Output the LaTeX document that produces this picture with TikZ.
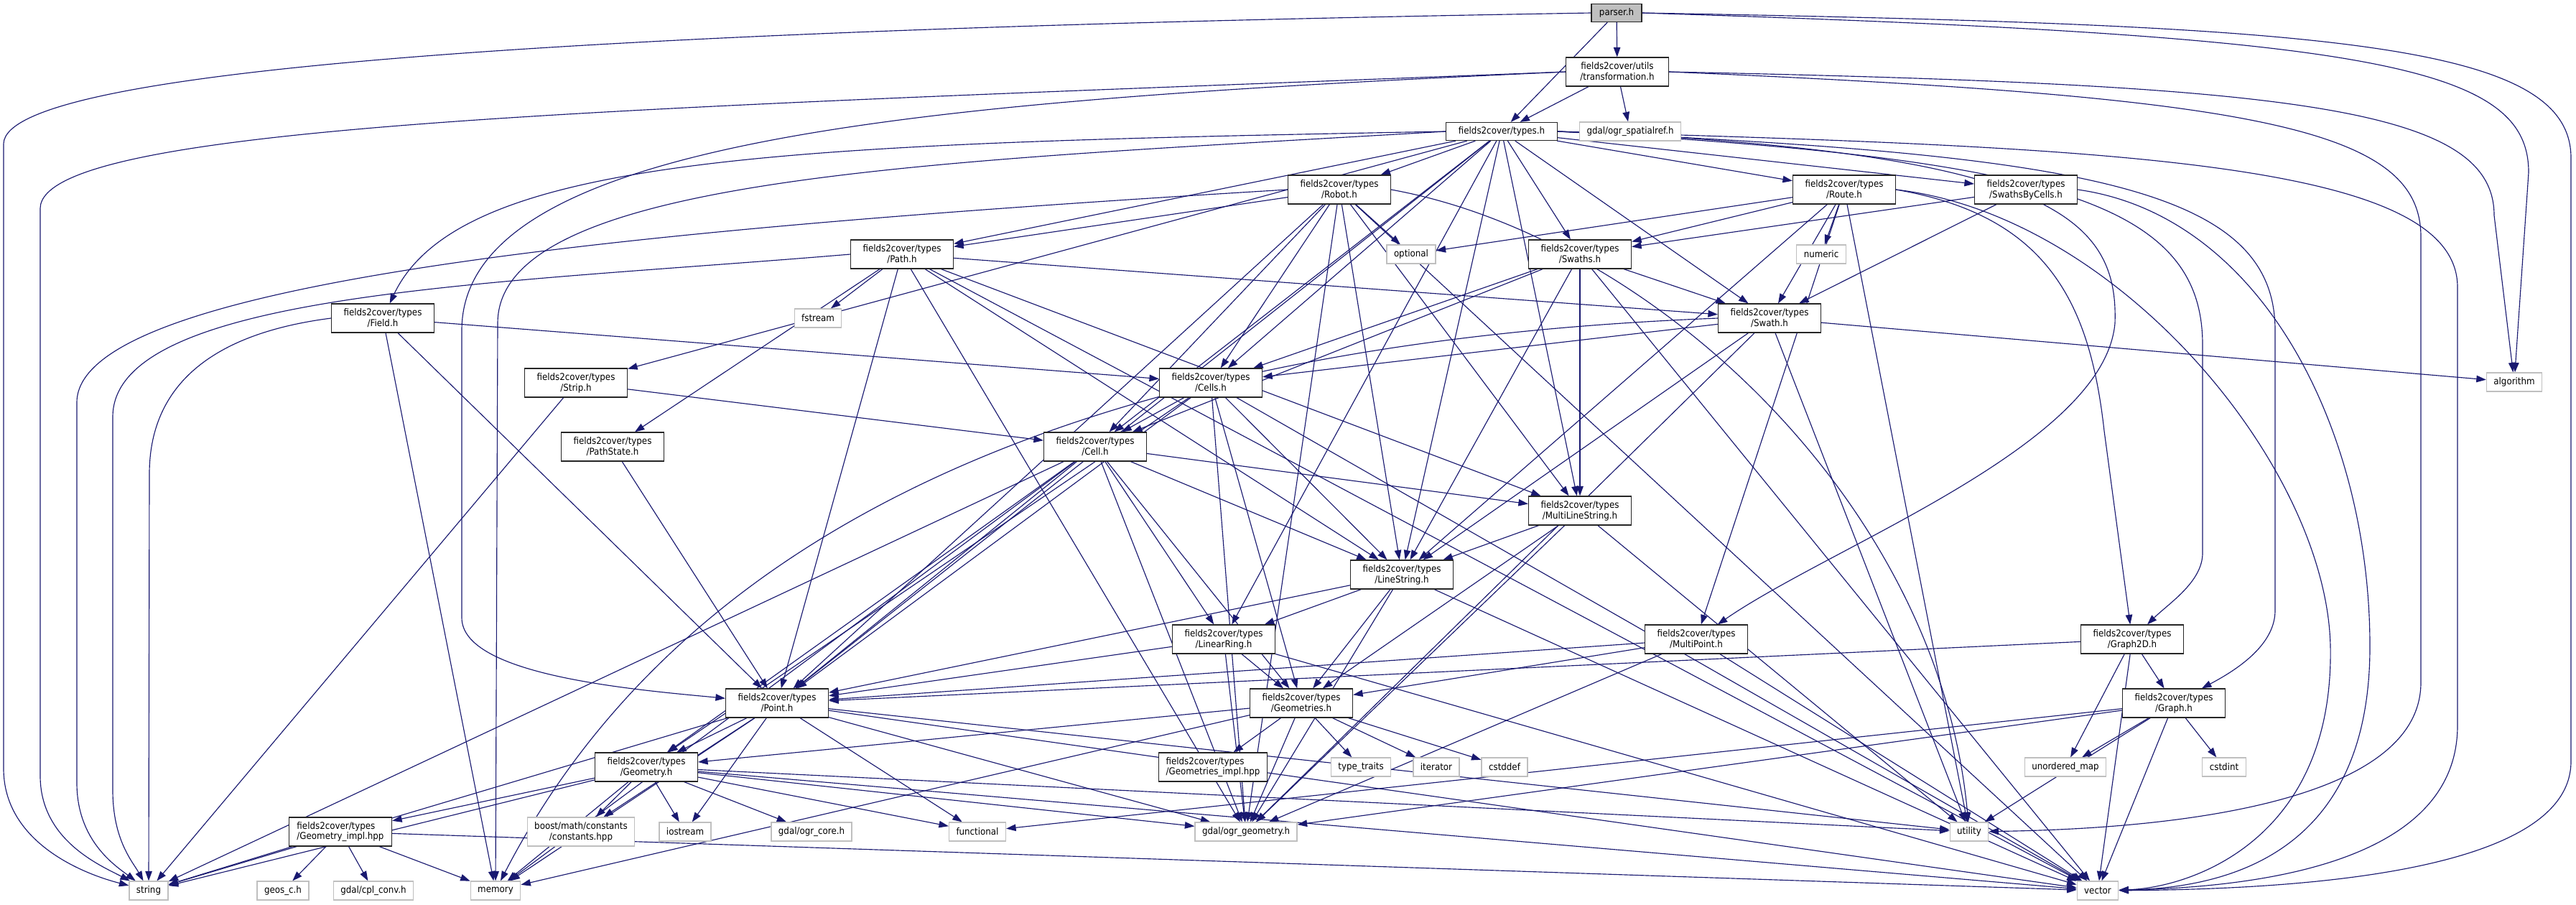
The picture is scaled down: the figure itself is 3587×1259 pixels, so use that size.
\documentclass[tikz,border=0pt]{standalone}
\usepackage{fontspec}
\setmainfont{DejaVu Sans Condensed}
\usetikzlibrary{arrows.meta}
\usetikzlibrary{backgrounds}
\definecolor{edgeblue}{RGB}{25,25,112}
\definecolor{sysgray}{RGB}{191,191,191}

\begin{document}
\begin{tikzpicture}[x=0.02cm, y=-0.02cm, font=\fontsize{7.5}{8.5}\selectfont]
        % Define styles for headers and include arrows
        \tikzstyle{header} = [draw=black!85, line width=0.7pt, fill=white, align=center, minimum width=2.86cm, minimum height=0.8cm, inner xsep=0.2cm, inner ysep=0pt]
        \tikzstyle{sysheader} = [draw=sysgray, line width=0.7pt, fill=white, minimum height=0.52cm, inner xsep=0.2cm, inner ysep=0pt]
        \tikzstyle{rootheader} = [draw=black!85, line width=0.7pt, fill=sysgray, minimum height=0.5cm, inner xsep=0.22cm, inner ysep=0pt]
        \tikzstyle{dep} = [draw=edgeblue, line width=0.65pt, -{Triangle[length=0.27cm, width=0.19cm]}]
        \useasboundingbox (0,0) rectangle (3587,1259);

        % Draw headers
        \node[rootheader] (parser) at (2251,18) {parser.h};
        \node[header] (transf) at (2252,100) {fields2cover/utils\\/transformation.h};
        \node[header, minimum height=0.5cm, minimum width=3.1cm] (types) at (2091,183) {fields2cover/types.h};
        \node[sysheader] (spatialref) at (2270,183) {gdal/ogr\_spatialref.h};
        \node[header] (robot) at (1865,264) {fields2cover/types\\/Robot.h};
        \node[header] (route) at (2568,264) {fields2cover/types\\/Route.h};
        \node[header] (sbc) at (2821,264) {fields2cover/types\\/SwathsByCells.h};
        \node[header] (path) at (1256,354) {fields2cover/types\\/Path.h};
        \node[sysheader] (optional) at (1965,354) {optional};
        \node[header] (swaths) at (2200,354) {fields2cover/types\\/Swaths.h};
        \node[sysheader] (numeric) at (2536,354) {numeric};
        \node[header] (field) at (533,443) {fields2cover/types\\/Field.h};
        \node[sysheader] (fstream) at (1139,443) {fstream};
        \node[header] (swath) at (2464,443) {fields2cover/types\\/Swath.h};
        \node[header] (strip) at (802,533) {fields2cover/types\\/Strip.h};
        \node[header] (cells) at (1686,533) {fields2cover/types\\/Cells.h};
        \node[sysheader] (algorithm) at (3501,532) {algorithm};
        \node[header] (pathstate) at (853,622) {fields2cover/types\\/PathState.h};
        \node[header] (cell) at (1525,622) {fields2cover/types\\/Cell.h};
        \node[header] (mls) at (2200,711) {fields2cover/types\\/MultiLineString.h};
        \node[header] (ls) at (1952,800) {fields2cover/types\\/LineString.h};
        \node[header] (lr) at (1704,890) {fields2cover/types\\/LinearRing.h};
        \node[header] (mpt) at (2362,890) {fields2cover/types\\/MultiPoint.h};
        \node[header] (g2d) at (2969,890) {fields2cover/types\\/Graph2D.h};
        \node[header] (point) at (1082,979) {fields2cover/types\\/Point.h};
        \node[header] (geoms) at (1812,979) {fields2cover/types\\/Geometries.h};
        \node[header] (graph) at (3027,979) {fields2cover/types\\/Graph.h};
        \node[header] (geom) at (900,1068) {fields2cover/types\\/Geometry.h};
        \node[header, align=left] (geomsimpl) at (1689,1068) {fields2cover/types\\/Geometries\_impl.hpp};
        \node[sysheader] (typetraits) at (1895,1068) {type\_traits};
        \node[sysheader] (iterator) at (2000,1068) {iterator};
        \node[sysheader] (cstddef) at (2095,1068) {cstddef};
        \node[sysheader] (umap) at (2876,1068) {unordered\_map};
        \node[sysheader] (cstdint) at (3097,1068) {cstdint};
        \node[header, align=left] (geomimpl) at (474,1158) {fields2cover/types\\/Geometry\_impl.hpp};
        \node[sysheader, align=center, minimum height=0.8cm] (boost) at (809,1158) {boost/math/constants\\/constants.hpp};
        \node[sysheader] (iostream) at (954,1158) {iostream};
        \node[sysheader] (ogrcore) at (1130,1158) {gdal/ogr\_core.h};
        \node[sysheader] (functional) at (1361,1158) {functional};
        \node[sysheader] (ogrgeom) at (1735,1158) {gdal/ogr\_geometry.h};
        \node[sysheader] (utility) at (2742,1158) {utility};
        \node[sysheader] (string) at (207,1240) {string};
        \node[sysheader] (geos) at (394,1240) {geos\_c.h};
        \node[sysheader] (cplconv) at (520,1240) {gdal/cpl\_conv.h};
        \node[sysheader] (memory) at (690,1240) {memory};
        \node[sysheader] (vector) at (2921,1240) {vector};

        \begin{scope}[on background layer]
        % Draw includes routed round the left side
        \draw[dep] (parser.west) .. controls (900,40) and (8,90) .. (5,200) -- (5,1070) .. controls (5,1170) and (110,1215) .. (string);
        \draw[dep] (transf.west) .. controls (900,150) and (58,170) .. (56,290) -- (56,1080) .. controls (56,1170) and (140,1205) .. (string);
        \draw[dep] (robot.west) .. controls (900,318) and (108,390) .. (107,560) -- (107,1090) .. controls (107,1170) and (160,1205) .. (string);
        \draw[dep] (path.west) .. controls (700,395) and (158,405) .. (157,580) -- (157,1100) .. controls (157,1170) and (185,1200) .. (string);
        \draw[dep] (field.west) .. controls (290,465) and (208,540) .. (208,660) -- (string);
        \draw[dep] (types.west) .. controls (1100,200) and (640,215) .. (field);
        \draw[dep] (transf.west) .. controls (1300,140) and (643,190) .. (643,460) -- (643,860) .. controls (643,940) and (880,960) .. (point);
        \draw[dep] (types.west) .. controls (1300,225) and (693,245) .. (693,450) -- (memory);
        \draw[dep] (swath.west) .. controls (1700,470) and (1000,640) .. (memory);

        % Draw includes routed round the right side
        \draw[dep] (parser.east) .. controls (3250,35) and (3580,60) .. (3580,220) -- (3580,1060) .. controls (3580,1215) and (3200,1238) .. (vector);
        \draw[dep] (parser.east) .. controls (3300,50) and (3521,90) .. (3521,240) -- (algorithm);
        \draw[dep] (transf.east) .. controls (3200,118) and (3473,150) .. (3473,300) -- (algorithm);
        \draw[dep] (transf.east) .. controls (3150,135) and (3371,180) .. (3371,330) -- (3371,950) .. controls (3371,1135) and (2950,1155) .. (utility);
        \draw[dep] (types.east) .. controls (2950,205) and (3422,225) .. (3422,400) -- (3422,1010) .. controls (3422,1200) and (3150,1235) .. (vector);
        \draw[dep] (types.east) .. controls (2900,215) and (3168,260) .. (3168,460) -- (3168,850) .. controls (3168,900) and (3110,935) .. (graph);
        \draw[dep] (types.east) .. controls (2850,220) and (3067,280) .. (3067,480) -- (3067,770) .. controls (3067,810) and (3020,840) .. (g2d);
        \draw[dep] (types.east) .. controls (2850,210) and (2950,300) .. (2945,450) .. controls (2930,620) and (2550,760) .. (mpt);
        \draw[dep] (sbc.east) .. controls (3150,300) and (3300,600) .. (3300,900) .. controls (3300,1190) and (3100,1236) .. (vector);
        \draw[dep] (route.east) .. controls (2850,300) and (2910,420) .. (2930,600) -- (g2d);
        \draw[dep] (route.east) .. controls (2950,300) and (3240,650) .. (3245,900) .. controls (3250,1170) and (3050,1236) .. (vector);
        \draw[dep] (robot.east) .. controls (2300,330) and (2700,700) .. (utility);

        % Draw direct includes
        \draw[dep] (parser) -- (transf);
        \draw[dep] (parser) -- (types);
        \draw[dep] (transf) -- (types);
        \draw[dep] (transf) -- (spatialref);
        \draw[dep] (types) -- (robot);
        \draw[dep] (types) -- (route);
        \draw[dep] (types) -- (swaths);
        \draw[dep] (types) -- (sbc);
        \draw[dep] (types) -- (path);
        \draw[dep] (types) -- (strip);
        \draw[dep] (types) -- (cells);
        \draw[dep] (types) -- (cell);
        \draw[dep] (types) -- (ls);
        \draw[dep] (types) -- (mls);
        \draw[dep] (types) -- (lr);
        \draw[dep] (types) -- (point);
        \draw[dep] (types) -- (swath);
        \draw[dep] (robot) -- (path);
        \draw[dep] (robot) -- (optional);
        \draw[dep] (robot) -- (cells);
        \draw[dep] (robot) -- (cell);
        \draw[dep] (robot) -- (point);
        \draw[dep] (robot) -- (ls);
        \draw[dep] (robot) -- (mls);
        \draw[dep] (robot) -- (ogrgeom);
        \draw[dep] (robot) -- (vector);
        \draw[dep] (route) -- (optional);
        \draw[dep] (route) -- (numeric);
        \draw[dep] (route) -- (swaths);
        \draw[dep] (route) -- (swath);
        \draw[dep] (route) -- (ls);
        \draw[dep] (route) -- (mpt);
        \draw[dep] (route) -- (utility);
        \draw[dep] (sbc) -- (swaths);
        \draw[dep] (sbc) -- (swath);
        \draw[dep] (path) -- (swath);
        \draw[dep] (path) -- (pathstate);
        \draw[dep] (path) -- (point);
        \draw[dep] (path) -- (ls);
        \draw[dep] (path) -- (mls);
        \draw[dep] (path) -- (fstream);
        \draw[dep] (path) -- (ogrgeom);
        \draw[dep] (path) -- (vector);
        \draw[dep] (field) -- (cells);
        \draw[dep] (field) -- (point);
        \draw[dep] (field) -- (memory);
        \draw[dep] (strip) -- (cell);
        \draw[dep] (strip) -- (string);
        \draw[dep] (pathstate) -- (point);
        \draw[dep] (swaths) -- (swath);
        \draw[dep] (swaths) -- (cells);
        \draw[dep] (swaths) -- (cell);
        \draw[dep] (swaths) -- (ls);
        \draw[dep] (swaths) -- (mls);
        \draw[dep] (swaths) -- (vector);
        \draw[dep] (swath) -- (cells);
        \draw[dep] (swath) -- (ls);
        \draw[dep] (swath) -- (ogrgeom);
        \draw[dep] (swath) -- (utility);
        \draw[dep] (swath) -- (algorithm);
        \draw[dep] (cells) -- (cell);
        \draw[dep] (cells) -- (point);
        \draw[dep] (cells) -- (geom);
        \draw[dep] (cells) -- (ls);
        \draw[dep] (cells) -- (geoms);
        \draw[dep] (cells) -- (ogrgeom);
        \draw[dep] (cells) -- (vector);
        \draw[dep] (cell) -- (string);
        \draw[dep] (cell) -- (geom);
        \draw[dep] (cell) -- (point);
        \draw[dep] (cell) -- (memory);
        \draw[dep] (cell) -- (ogrgeom);
        \draw[dep] (cell) -- (geoms);
        \draw[dep] (cell) -- (lr);
        \draw[dep] (cell) -- (ls);
        \draw[dep] (cell) -- (mls);
        \draw[dep] (mls) -- (ls);
        \draw[dep] (mls) -- (geoms);
        \draw[dep] (mls) -- (ogrgeom);
        \draw[dep] (mls) -- (utility);
        \draw[dep] (ls) -- (point);
        \draw[dep] (ls) -- (lr);
        \draw[dep] (ls) -- (geoms);
        \draw[dep] (ls) -- (ogrgeom);
        \draw[dep] (ls) -- (vector);
        \draw[dep] (lr) -- (point);
        \draw[dep] (lr) -- (geoms);
        \draw[dep] (lr) -- (ogrgeom);
        \draw[dep] (lr) -- (vector);
        \draw[dep] (mpt) -- (point);
        \draw[dep] (mpt) -- (geoms);
        \draw[dep] (mpt) -- (ogrgeom);
        \draw[dep] (mpt) -- (vector);
        \draw[dep] (g2d) -- (point);
        \draw[dep] (g2d) -- (graph);
        \draw[dep] (g2d) -- (umap);
        \draw[dep] (g2d) -- (vector);
        \draw[dep] (graph) -- (umap);
        \draw[dep] (graph) -- (cstdint);
        \draw[dep] (graph) -- (vector);
        \draw[dep] (graph) -- (utility);
        \draw[dep] (graph) -- (ogrgeom);
        \draw[dep] (graph) -- (functional);
        \draw[dep] (point) -- (geom);
        \draw[dep] (point) -- (boost);
        \draw[dep] (point) -- (iostream);
        \draw[dep] (point) -- (memory);
        \draw[dep] (point) -- (string);
        \draw[dep] (point) -- (functional);
        \draw[dep] (point) -- (ogrgeom);
        \draw[dep] (point) -- (vector);
        \draw[dep] (point) -- (utility);
        \draw[dep] (geoms) -- (geom);
        \draw[dep] (geoms) -- (geomsimpl);
        \draw[dep] (geoms) -- (typetraits);
        \draw[dep] (geoms) -- (iterator);
        \draw[dep] (geoms) -- (cstddef);
        \draw[dep] (geoms) -- (ogrgeom);
        \draw[dep] (geoms) -- (memory);
        \draw[dep] (geom) -- (geomimpl);
        \draw[dep] (geom) -- (boost);
        \draw[dep] (geom) -- (string);
        \draw[dep] (geom) -- (iostream);
        \draw[dep] (geom) -- (ogrcore);
        \draw[dep] (geom) -- (functional);
        \draw[dep] (geom) -- (ogrgeom);
        \draw[dep] (geom) -- (memory);
        \draw[dep] (geom) -- (vector);
        \draw[dep] (geom) -- (utility);
        \draw[dep] (geomimpl) -- (string);
        \draw[dep] (geomimpl) -- (geos);
        \draw[dep] (geomimpl) -- (cplconv);
        \draw[dep] (geomimpl) -- (memory);
        \draw[dep] (geomimpl) -- (vector);
        \end{scope}
\end{tikzpicture}
\end{document}
